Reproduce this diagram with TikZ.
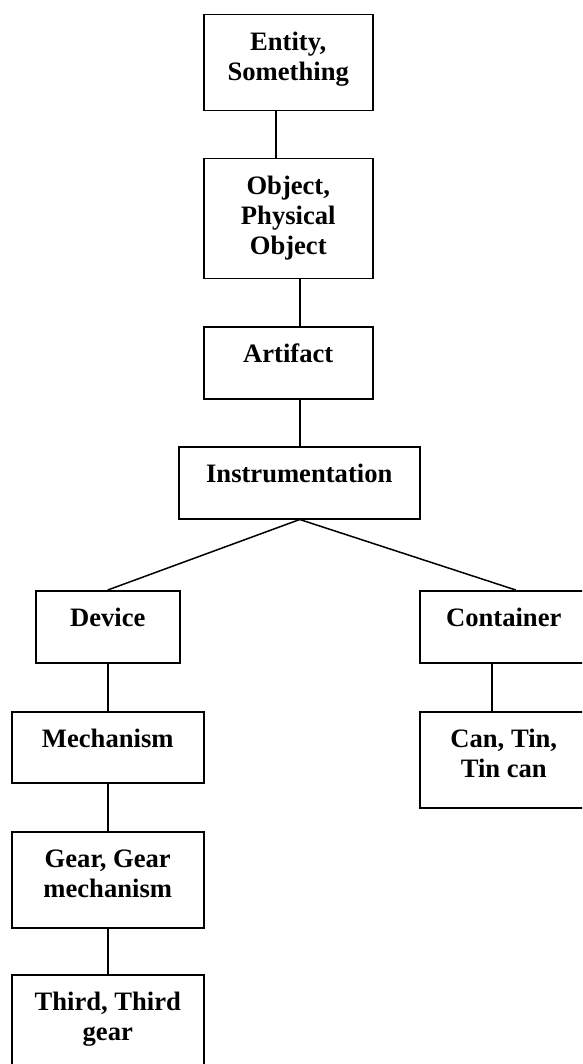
\documentclass[tikz,border=0pt]{standalone}
\usepackage{fontspec}
\setmainfont{Liberation Serif}
\newcommand{\bxtext}[3]{\parbox[c][#2][t]{#1}{\centering\rule{0pt}{36pt}#3}}
\begin{document}
\begin{tikzpicture}[x=1pt,y=1pt,
  box/.style={draw=black, line width=1.5pt, inner sep=0pt, anchor=north west,
    font=\fontsize{26.6pt}{30pt}\selectfont\bfseries},
  link/.style={draw=black, line width=1.5pt}]
\useasboundingbox (0,0) rectangle (582,-1064);
\clip (0,0) rectangle (582,-1064);
\node[box] (ent) at (203,-14) {\bxtext{169pt}{96pt}{Entity,\\Something}};
\node[box] (obj) at (203,-158) {\bxtext{169pt}{120pt}{Object,\\Physical\\Object}};
\node[box] (art) at (203,-326) {\bxtext{169pt}{72pt}{Artifact}};
\node[box] (ins) at (178,-446) {\bxtext{241pt}{72pt}{Instrumentation}};
\node[box] (dev) at (35,-590) {\bxtext{144pt}{72pt}{Device}};
\node[box] (con) at (419,-590) {\bxtext{168pt}{72pt}{Container}};
\node[box] (can) at (419,-711) {\bxtext{168pt}{96pt}{Can, Tin,\\Tin can}};
\node[box] (mech) at (11,-711) {\bxtext{192pt}{71pt}{Mechanism}};
\node[box] (gear) at (11,-831) {\bxtext{192pt}{96pt}{Gear, Gear\\mechanism}};
\node[box] (third) at (11,-974) {\bxtext{192pt}{96pt}{Third, Third\\gear}};
\draw[link] ([xshift=-12.5pt]ent.south) -- ([xshift=-12.5pt]obj.north);
\draw[link] ([xshift=11.5pt]obj.south) -- ([xshift=11.5pt]art.north);
\draw[link] ([xshift=11.5pt]art.south) -- ([xshift=0.5pt]ins.north);
\draw[link] ([xshift=0.5pt]ins.south) -- (dev.north);
\draw[link] ([xshift=0.5pt]ins.south) -- ([xshift=12pt]con.north);
\draw[link] (dev.south) -- (mech.north);
\draw[link] (mech.south) -- (gear.north);
\draw[link] (gear.south) -- (third.north);
\draw[link] ([xshift=-12pt]con.south) -- ([xshift=-12pt]can.north);
\end{tikzpicture}
\end{document}
